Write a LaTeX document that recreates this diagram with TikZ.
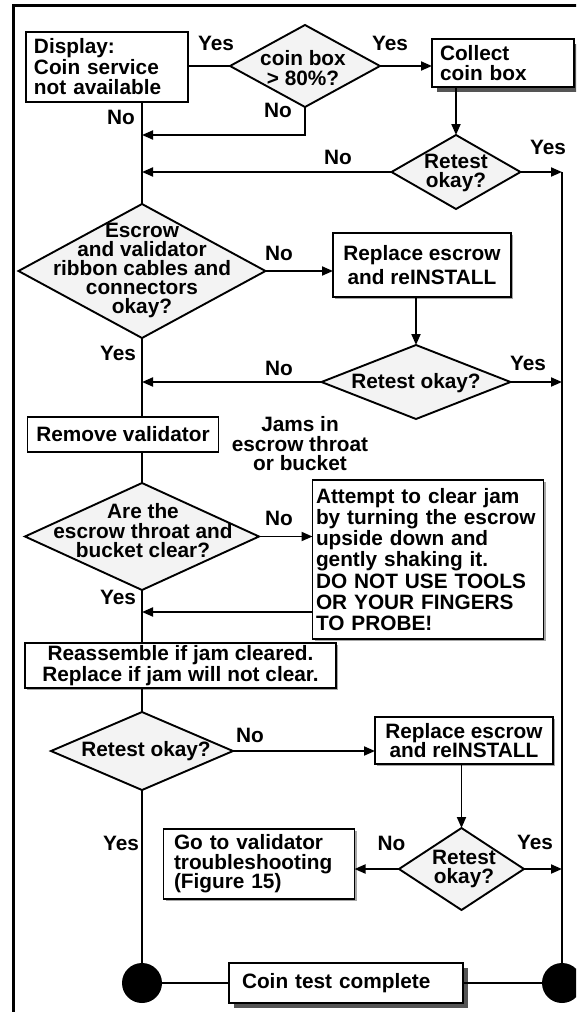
\documentclass[tikz,border=0pt]{standalone}
\usepackage{fontspec}
\setmainfont{Liberation Sans}
\usetikzlibrary{shapes.geometric,arrows.meta,shadows}
\definecolor{diafill}{HTML}{F3F3F3}
\definecolor{shadowgray}{HTML}{555555}
\begin{document}
\begin{tikzpicture}[x=1pt,y=-1pt,
  lead/.style={font=\fontsize{20.8}{#1}\selectfont\bfseries},
  every node/.style={lead=21},
  flow/.style={line width=1.9pt},
  arr/.style={flow,-{Triangle[length=11pt,width=9pt]}},
  box/.style={draw,line width=1.9pt,fill=white,inner sep=0pt,outer sep=0pt},
  bigshadow/.style={general shadow={fill=shadowgray,shadow xshift=5pt,shadow yshift=-5pt}},
  smallshadow/.style={general shadow={fill=gray!70,shadow xshift=2pt,shadow yshift=-2pt}},
  dia/.style 2 args={diamond,draw,line width=1.9pt,fill=diafill,inner sep=0pt,outer sep=0pt,
    minimum width=#1pt,minimum height=#2pt},
  txt/.style={align=center,inner sep=0pt},
  endpt/.style={circle,fill=black,inner sep=0pt,minimum size=40pt}
]
\useasboundingbox (0,0) rectangle (576,1012);
\clip (0,0) rectangle (576,1012);

% outer frame
\draw[line width=3pt] (13,1015) -- (13,5) -- (580,5);

% ---------- nodes ----------
\node[box,minimum width=162pt,minimum height=70pt,text width=146pt,align=left,lead=20.5]
  (disp) at (107,67) {Display:\\Coin service\\not available};
\node[dia={150}{82}] (coin) at (305,66) {};
\node[txt,lead=20] (coinT) at (303,68) {coin box\\> 80\%?};
\node[box,bigshadow,minimum width=142pt,minimum height=48pt,text width=126pt,align=left,lead=20]
  (collect) at (503,63) {Collect\\coin box};
\node[dia={129}{74}] (rt1) at (456,172) {};
\node[txt,lead=19.5] (rt1T) at (456,173) {Retest\\okay?};

\node[dia={247}{134}] (esc) at (142,271) {};
\node[txt,lead=19] (escT) at (142,270) {Escrow\\and validator\\ribbon cables and\\connectors\\okay?};
\node[box,smallshadow,minimum width=178pt,minimum height=64pt,align=center,lead=24]
  (rep1) at (422,265) {Replace escrow\\and reINSTALL};
\node[dia={189}{74}] (rt2) at (416,382) {};
\node[txt] (rt2T) at (416,383) {Retest okay?};

\node[box,minimum width=191pt,minimum height=35pt] (remv) at (123,434.5) {Remove validator};
\node[txt,lead=19.5] (jams) at (300,444) {Jams in\\escrow throat\\or bucket};

\node[dia={234}{107}] (clr) at (142,536.5) {};
\node[txt,lead=19.5] (clrT) at (143,531) {Are the\\escrow throat and\\bucket clear?};
\node[box,smallshadow,minimum width=231pt,minimum height=159pt,text width=224pt,align=left,lead=21.3]
  (att) at (428,559.5) {Attempt to clear jam\\by turning the escrow\\upside down and\\gently shaking it.\\DO NOT USE TOOLS\\OR YOUR FINGERS\\TO PROBE!};

\node[box,smallshadow,minimum width=311pt,minimum height=45pt,align=center,lead=20.5]
  (reasm) at (180.5,665.5) {Reassemble if jam cleared.\\Replace if jam will not clear.};

\node[dia={182}{78}] (rt3) at (142,751) {};
\node[txt] (rt3T) at (146,751) {Retest okay?};
\node[box,smallshadow,minimum width=178pt,minimum height=47pt,align=center,lead=19.5]
  (rep2) at (464,740.5) {Replace escrow\\and reINSTALL};
\node[dia={125}{82}] (rt4) at (461.5,869) {};
\node[txt,lead=19.5] (rt4T) at (464,869) {Retest\\okay?};
\node[box,smallshadow,minimum width=191pt,minimum height=70pt,text width=170pt,align=left,lead=19.5]
  (go) at (259,864) {Go to validator\\troubleshooting\\(Figure 15)};

\node[endpt] (endL) at (142,983) {};
\node[endpt] (endR) at (562,983) {};
\node[box,bigshadow,minimum width=234pt,minimum height=40pt,text width=208pt,align=left]
  (done) at (346,983) {Coin test complete};

% junctions on the main line
\coordinate (j1) at (142,135);
\coordinate (j2) at (142,612);

% ---------- connectors ----------
\draw[flow] (disp.south -| esc.north) -- (esc.north);
\draw[flow] (disp.east |- coin.west) -- (coin.west);
\draw[arr] (coin.east) -- (collect.west |- coin.east);
\draw[arr] (coin.south) |- (j1);
\draw[arr] (collect.south -| rt1.north) -- (rt1.north);
\draw[arr] (rt1.west) -- (rt1.west -| esc.north);
\draw[arr] (rt1.east) -- (rt1.east -| endR.center);
\draw[flow] (rt1.east -| endR.center) -- (endR.center);

\draw[arr] (esc.east) -- (rep1.west |- esc.east);
\draw[arr] (rep1.south -| rt2.north) -- (rt2.north);
\draw[arr] (rt2.west) -- (rt2.west -| esc.south);
\draw[arr] (rt2.east) -- (rt2.east -| endR.center);
\draw[flow] (esc.south) -- (remv.north -| esc.south);
\draw[flow] (remv.south -| clr.north) -- (clr.north);

\draw[arr] (clr.east) -- (att.west |- clr.east);
\draw[arr] (att.west |- j2) -- (j2);
\draw[flow] (clr.south) -- (reasm.north -| clr.south);
\draw[flow] (reasm.south -| rt3.north) -- (rt3.north);

\draw[arr] (rt3.east) -- (rep2.west |- rt3.east);
\draw[arr] (rep2.south -| rt4.north) -- (rt4.north);
\draw[arr] (rt4.west) -- (go.east |- rt4.west);
\draw[arr] (rt4.east) -- (rt4.east -| endR.center);
\draw[flow] (rt3.south) -- (endL);
\draw[flow] (endL) -- (done);
\draw[flow] (done) -- (endR);

% ---------- branch labels ----------
\node (l1) at (216,43) {Yes};
\node (l2) at (390,43) {Yes};
\node (l3) at (278,110) {No};
\node (l4) at (121,117) {No};
\node (l5) at (338,157) {No};
\node (l6) at (548,147) {Yes};
\node (l7) at (279,253) {No};
\node (l8) at (118,353) {Yes};
\node (l9) at (279,368) {No};
\node (l10) at (528,363) {Yes};
\node (l11) at (279,518) {No};
\node (l12) at (118,597) {Yes};
\node (l13) at (250,735) {No};
\node (l14) at (121,843) {Yes};
\node (l15) at (391.5,843) {No};
\node (l16) at (535,842) {Yes};
\end{tikzpicture}
\end{document}
